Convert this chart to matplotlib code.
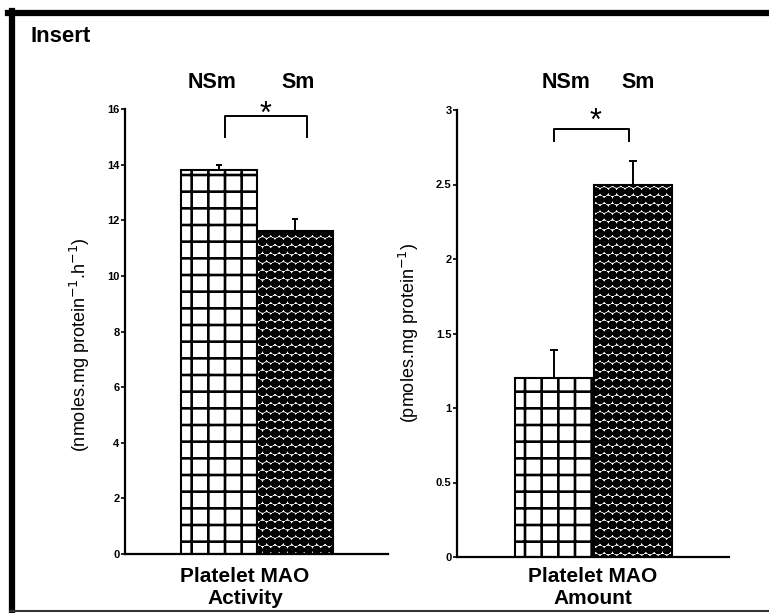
import matplotlib
matplotlib.use("Agg")
import matplotlib.pyplot as plt
from matplotlib.lines import Line2D

# Platelet MAO data: non-smokers (NSm) vs smokers (Sm)
groups = ["NSm", "Sm"]
activity_mean = [13.8, 11.6]
activity_err = [0.2, 0.45]
amount_mean = [1.2, 2.5]
amount_err = [0.19, 0.16]
activity_ticks = [0, 2, 4, 6, 8, 10, 12, 14, 16]
amount_ticks = [0, 0.5, 1, 1.5, 2, 2.5, 3]
amount_ticklabels = ["0", "0.5", "1", "1.5", "2", "2.5", "3"]

W, H = 769, 613
plt.rcParams["font.family"] = ["Liberation Sans", "DejaVu Sans"]
plt.rcParams["hatch.linewidth"] = 1.9
plt.rcParams["hatch.color"] = "black"

fig = plt.figure(figsize=(W / 100, H / 100), dpi=100)


def rect(x0, y0, x1, y1):
    """Pixel box (top-left origin) -> figure fraction [l, b, w, h]."""
    return [x0 / W, (H - y1) / H, (x1 - x0) / W, (y1 - y0) / H]


def fx(x):
    return x / W


def fy(y):
    return (H - y) / H


tick_font = dict(family=["Liberation Sans Narrow", "Liberation Sans"], weight="bold", size=8)
hatches = ["+", "OO.."]


def draw_panel(ax, means, errs, ymax, ticks, ticklabels, capsize):
    xs = [0, 1]
    bars = ax.bar(xs, means, width=1.0, color="white", edgecolor="black",
                  linewidth=1.5, zorder=2)
    for b, h in zip(bars, hatches):
        b.set_hatch(h)
    ax.errorbar(xs, means, yerr=[[0, 0], errs], fmt="none", ecolor="black",
                elinewidth=1.4, capsize=capsize, capthick=1.4, zorder=3)
    ax.set_xlim(-1.24, 2.225)
    ax.set_ylim(0, ymax)
    ax.set_yticks(ticks)
    ax.set_yticklabels(ticklabels, fontdict=tick_font)
    ax.set_xticks([])
    for s in ("top", "right"):
        ax.spines[s].set_visible(False)
    for s in ("left", "bottom"):
        ax.spines[s].set_linewidth(1.6)
    ax.tick_params(axis="y", direction="out", length=3, width=1.2, pad=1)


# Left panel: activity
ax1 = fig.add_axes(rect(125, 109, 388, 554))
draw_panel(ax1, activity_mean, activity_err, 16, activity_ticks,
           [str(t) for t in activity_ticks], 2)

# Right panel: amount
ax2 = fig.add_axes(rect(457, 110, 729, 557))
draw_panel(ax2, amount_mean, amount_err, 3, amount_ticks, amount_ticklabels, 3)

# significance brackets
ax1.plot([0.08, 0.08, 1.16, 1.16], [15.0, 15.75, 15.75, 15.0], color="black",
         lw=1.4, clip_on=False)
ax2.plot([0.0, 0.0, 0.95, 0.95], [2.79, 2.87, 2.87, 2.79], color="black",
         lw=1.4, clip_on=False)
star = dict(fontsize=22, ha="center", va="baseline")
fig.text(fx(265), fy(123), "*", **star)
fig.text(fx(595), fy(130), "*", **star)

# group labels
lab = dict(fontsize=15.5, weight="bold", ha="center", va="center")
fig.text(fx(212), fy(82), groups[0], **lab)
fig.text(fx(298), fy(82), groups[1], **lab)
fig.text(fx(566), fy(83), groups[0], **lab)
fig.text(fx(638), fy(83), groups[1], **lab)

# panel titles below axes
xl = dict(fontsize=15, weight="bold", ha="center", va="center", linespacing=1.2)
fig.text(fx(245), fy(587), "Platelet MAO\nActivity", **xl)
fig.text(fx(593), fy(587), "Platelet MAO\nAmount", **xl)

# y-axis labels
fig.text(fx(80), fy(345), r"(nmoles.mg protein$^{-1}$.h$^{-1}$)", rotation=90,
         ha="center", va="center", fontsize=13)
fig.text(fx(409), fy(333), r"(pmoles.mg protein$^{-1}$)", rotation=90,
         ha="center", va="center", fontsize=13)

fig.text(fx(30), fy(36), "Insert", fontsize=16, weight="bold", ha="left", va="center")

# outer frame
fig.add_artist(Line2D([fx(8), fx(769)], [fy(13), fy(13)], color="black", lw=4.5))
fig.add_artist(Line2D([fx(12), fx(12)], [fy(11), fy(612)], color="black", lw=4.5))
fig.add_artist(Line2D([fx(10), fx(769)], [fy(611), fy(611)], color="#333333", lw=1.5))

fig.savefig("out.png", dpi=100)
